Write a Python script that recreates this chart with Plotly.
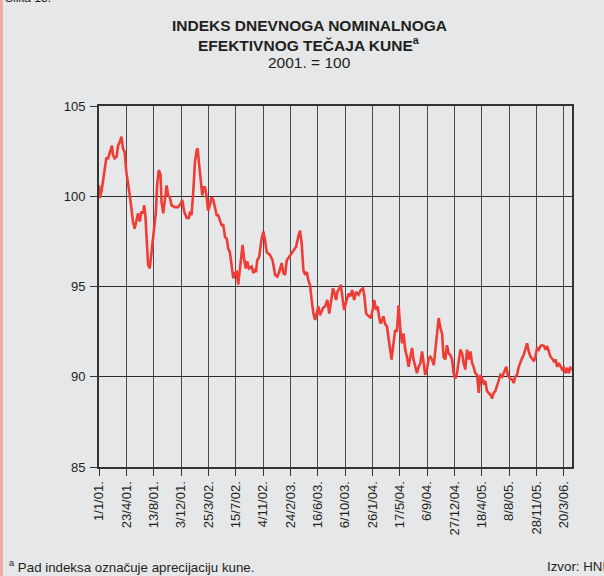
import pandas as pd
import plotly.graph_objects as go

# ---- data: days since 1 Jan 2001 and index values ----
start_date = "2001-01-01"
days = [0, 2, 10, 23, 30, 37, 48, 53, 57, 64, 72, 78, 85, 92, 98, 105, 112, 119, 126, 133,
        139, 146, 153, 160, 167, 174, 181, 185, 190, 194, 201, 208, 215, 226, 233, 238, 245,
        252, 256, 263, 270, 277, 283, 290, 297, 311, 324, 335, 341, 349, 359, 368, 373, 379,
        386, 393, 400, 404, 409, 417, 423, 428, 434, 441, 447, 454, 461, 468, 475, 482, 488,
        495, 502, 509, 516, 523, 529, 536, 543, 550, 557, 564, 570, 577, 584, 588, 594, 601,
        607, 614, 625, 632, 639,
        643, 648, 656, 666, 673, 680, 687, 700, 711, 721, 730, 738, 748, 755, 762, 769, 779,
        789, 799, 807, 816, 823, 830, 837, 844, 851, 857, 864, 871, 878, 885, 892, 898, 905,
        917, 926, 935, 943, 950, 958, 963, 971, 976, 985, 990, 999, 1004, 1012, 1022, 1029,
        1037, 1045, 1053, 1063, 1072, 1081, 1086, 1094, 1104, 1113, 1122, 1127, 1135, 1141,
        1149, 1154, 1165, 1172, 1179, 1186, 1193, 1198, 1206, 1213, 1220, 1227, 1234, 1241,
        1247, 1254, 1261, 1268, 1275, 1282, 1288, 1295, 1302, 1309, 1316, 1323, 1329, 1336,
        1343, 1350, 1357, 1364, 1371, 1378, 1385, 1391, 1398, 1405, 1411, 1418, 1425, 1432,
        1439, 1446, 1452, 1459, 1466, 1473, 1480, 1487, 1493, 1500, 1507, 1514, 1521, 1528,
        1534, 1541, 1548, 1555, 1562, 1569, 1575, 1582, 1589, 1596, 1603, 1610, 1616, 1623,
        1630, 1637, 1644, 1651, 1657, 1664, 1668, 1674, 1682, 1692, 1698, 1705, 1712, 1719,
        1726, 1733, 1739, 1746, 1753, 1760, 1767, 1774, 1781, 1787, 1794, 1801, 1808, 1815,
        1822, 1829, 1835, 1842, 1849, 1856, 1863, 1870, 1876, 1883, 1890, 1897, 1904, 1911,
        1917, 1924, 1931, 1938]
index_values = [100.6, 99.9, 100.25, 101.35, 102.1, 102.1, 102.55, 102.8, 102.3, 102.1, 102.2,
                102.8, 103.0, 103.3, 102.65, 102.45, 101.35, 100.8, 100.05, 99.3, 98.6, 98.2,
                98.6, 99.05, 98.6, 99.15, 99.05, 99.5, 98.95, 97.85, 96.2, 96.0, 96.9, 98.4,
                99.15, 100.6, 101.45, 101.2, 99.7, 99.05, 99.7, 100.6, 100.05, 99.95, 99.5,
                99.4, 99.4, 99.6, 99.8, 99.15, 98.8, 98.8, 99.15, 98.95, 100.25, 101.9, 102.55,
                102.65, 101.9, 101.0, 100.05, 100.5, 100.5, 99.95, 99.2, 99.5, 99.95, 99.8,
                99.4, 98.95, 98.95, 98.7, 98.4, 98.4, 97.75, 97.65, 97.1, 96.9, 96.2, 95.45,
                95.75, 95.8, 95.1, 96.0, 96.85, 97.3, 96.55, 96.0, 96.4, 96.0, 96.1, 95.75, 95.9,
                95.8, 96.45, 96.65, 97.65, 98.05, 97.55, 96.9, 96.75, 96.45, 95.65, 95.55, 95.8,
                96.3, 95.75, 95.65, 96.45, 96.65, 96.85, 97.0, 97.2, 97.75, 98.1, 97.4, 95.9,
                95.65, 95.8, 95.35, 95.1, 94.25, 93.5, 93.15, 93.5, 93.9, 93.4, 93.8, 93.9,
                94.25, 93.5, 94.05, 94.9, 94.7, 94.25, 94.7, 94.9, 95.1, 94.25, 93.7, 94.15,
                94.6, 94.45, 94.8, 94.25, 94.7, 94.55, 94.8, 94.9, 94.55, 93.5, 93.35, 93.25,
                93.8, 94.25, 93.7, 93.9, 93.15, 92.95, 93.35, 92.9, 92.8, 92.05, 91.3, 90.95,
                91.85, 92.6, 92.5, 93.95, 92.6, 91.85, 92.4, 91.5, 91.1, 90.55, 91.1, 91.6,
                90.95, 90.5, 90.2, 90.55, 90.75, 91.4, 90.65, 90.1, 90.4, 91.0, 91.1, 90.95,
                90.65, 91.6, 92.8, 93.25, 92.7, 92.4, 91.1, 90.95, 91.75, 91.3, 91.2, 90.95,
                90.2, 89.9, 90.2, 90.95, 91.5, 91.3, 90.75, 90.4, 91.5, 90.95, 91.4, 90.75,
                90.55, 90.2, 90.1, 89.1, 90.1, 89.9, 89.65, 89.75, 89.2, 89.1, 89.0, 88.8,
                89.1, 89.2, 89.55, 89.85, 90.1, 90.0, 90.2, 90.4, 90.55, 90.1, 89.9, 89.85,
                89.65, 90.0, 90.1, 90.55, 90.85, 91.05, 91.2, 91.6, 91.85, 91.4, 91.1, 91.0,
                90.85, 91.1, 91.6, 91.5, 91.7, 91.75, 91.7, 91.5, 91.7, 91.4, 91.1, 91.0,
                90.85, 90.95, 90.55, 90.75, 90.55, 90.4, 90.5, 90.2, 90.5, 90.2, 90.5, 90.4]

tick_dates = ["2001-01-01", "2001-04-23", "2001-08-13", "2001-12-03", "2002-03-25",
              "2002-07-15", "2002-11-04", "2003-02-24", "2003-06-16", "2003-10-06",
              "2004-01-26", "2004-05-17", "2004-09-06", "2004-12-27", "2005-04-18",
              "2005-08-08", "2005-11-28", "2006-03-20"]
tick_labels = ["1/1/01.", "23/4/01.", "13/8/01.", "3/12/01.", "25/3/02.", "15/7/02.",
               "4/11/02.", "24/2/03.", "16/6/03.", "6/10/03.", "26/1/04.", "17/5/04.",
               "6/9/04.", "27/12/04.", "18/4/05.", "8/8/05.", "28/11/05.", "20/3/06."]
y_ticks = [85, 90, 95, 100, 105]
x_end = "2006-04-22"

dates = pd.to_datetime(start_date) + pd.to_timedelta(days, unit="D")

FONT = "Liberation Sans, Arial, Helvetica, sans-serif"
BG = "#e6e7e9"
RED = "#ef3d35"

fig = go.Figure()
fig.add_trace(go.Scatter(x=dates, y=index_values, mode="lines",
                         line=dict(color=RED, width=2.6), showlegend=False,
                         hoverinfo="skip"))

fig.update_layout(
    width=604, height=576,
    margin=dict(l=99, r=32, t=106, b=109, pad=0),
    paper_bgcolor=BG, plot_bgcolor=BG,
    font=dict(family=FONT, color="#231f20", size=13),
    showlegend=False,
)
fig.update_xaxes(
    type="date", range=[start_date, x_end],
    tickmode="array", tickvals=tick_dates, ticktext=tick_labels,
    tickangle=-90, tickfont=dict(size=13, color="#231f20"),
    ticks="outside", ticklen=7, tickwidth=1, tickcolor="#333333",
    showgrid=True, gridcolor="#4a4a4a", gridwidth=1,
    showline=True, linecolor="#333333", linewidth=2, mirror=True,
    zeroline=False,
)
fig.update_yaxes(
    range=[85, 105], tickmode="array", tickvals=y_ticks,
    tickfont=dict(size=13, color="#231f20"),
    ticks="outside", ticklen=7, tickwidth=1, tickcolor="#333333",
    showgrid=True, gridcolor="#2b2b2b", gridwidth=1,
    showline=True, linecolor="#333333", linewidth=2, mirror=True,
    zeroline=False, ticklabelstandoff=2,
)

H = 361.0
def py(pix):
    return (467.0 - pix) / H

def px(pix):
    return (pix - 99.0) / 473.0

ann = [
    dict(text="<b>INDEKS DNEVNOGA NOMINALNOGA</b>", y=py(26), font=dict(size=15.5)),
    dict(text="<b>EFEKTIVNOG TEČAJA KUNE<sup>a</sup></b>", y=py(44), font=dict(size=15.5)),
    dict(text="2001. = 100", y=py(62), font=dict(size=15.5)),
]
for a in ann:
    fig.add_annotation(xref="paper", yref="paper", x=px(309), xanchor="center",
                       yanchor="middle", showarrow=False, **a)

fig.add_annotation(xref="paper", yref="paper", x=px(7), y=py(566), xanchor="left",
                   yanchor="middle", showarrow=False, font=dict(size=13.3),
                   text="<sup>a</sup> Pad indeksa označuje aprecijaciju kune.")
fig.add_annotation(xref="paper", yref="paper", x=px(545), y=py(566), xanchor="left",
                   yanchor="middle", showarrow=False, font=dict(size=13.3),
                   text="Izvor: HNB")
fig.add_annotation(xref="paper", yref="paper", x=px(3), y=py(7), xanchor="left",
                   yanchor="bottom", showarrow=False, font=dict(size=12),
                   text="Slika 13.")

fig.add_shape(type="rect", xref="paper", yref="paper", x0=px(0), x1=px(2.8),
              y0=py(576), y1=py(0), fillcolor="#f0a6a2", line=dict(width=0), layer="above")

fig.write_html("out.html",
               config={"displayModeBar": False, "staticPlot": True},
               post_script="document.body.style.margin='0';"
                           "document.body.style.overflow='hidden';")
